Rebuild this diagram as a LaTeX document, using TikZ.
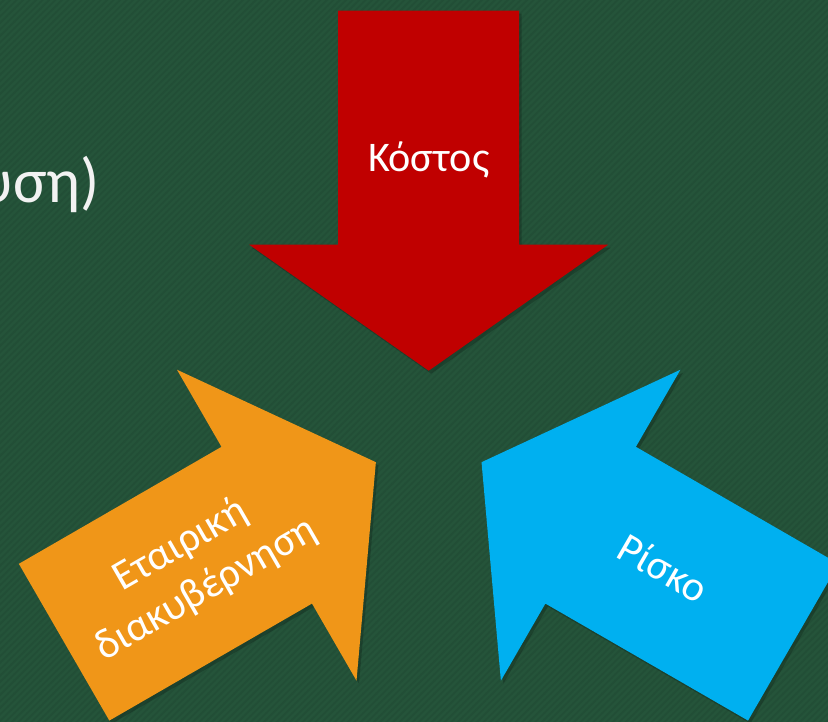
\documentclass[tikz,border=0pt]{standalone}
\usepackage{fontspec}
\setmainfont{Carlito}
\usetikzlibrary{patterns.meta}

\definecolor{bggreen}{RGB}{37,84,58}
\definecolor{stripegreen}{RGB}{34,78,54}
\definecolor{kostosred}{RGB}{192,0,0}
\definecolor{etairikiorange}{RGB}{240,150,24}
\definecolor{riskoblue}{RGB}{0,176,240}
\definecolor{titlewhite}{RGB}{242,242,242}

% arrow outline, pointing to -x, tip near the origin
\newcommand{\arrowoutline}{(1.22, 0) -- (3.74, 3.59) -- (3.74, 1.81) -- (8.42, 1.81) -- (8.42, -1.81) -- (3.74, -1.81) -- (3.74, -3.59) -- cycle}

\begin{document}
\begin{tikzpicture}[
  label/.style={text=white, font=\fontsize{24}{29}\selectfont, align=center},
  shade/.style={fill=black, opacity=0.2}
]

\useasboundingbox (0, 0) rectangle (16.56, 14.42);
\clip (0, 0) rectangle (16.56, 14.42);

% Background
\fill [bggreen] (-1, -1) rectangle (17.56, 15.42);
\fill [pattern={Lines[angle=45, distance=2.6pt, line width=1pt]}, pattern color=stripegreen] (-1, -1) rectangle (17.56, 15.42);

% Title (cut off)
\node [text=titlewhite, font=\fontsize{36}{40}\selectfont, anchor=base east] (titlos) at (2.12, 10.36) {υση)};

% Shadows
\begin{scope}[shift={(8.624, 5.726)}, rotate=90]
\fill [shade] \arrowoutline;
\end{scope}
\begin{scope}[shift={(8.624, 5.726)}, rotate=210]
\fill [shade] \arrowoutline;
\end{scope}
\begin{scope}[shift={(8.624, 5.726)}, rotate=-30]
\fill [shade] \arrowoutline;
\end{scope}

% Kostos
\begin{scope}[shift={(8.574, 5.786)}, rotate=90]
\fill [kostosred] \arrowoutline;
\node [label] (kostos) at (5.43, 0) {Κόστος};
\end{scope}

% Etairiki diakyvernisi
\begin{scope}[shift={(8.574, 5.786)}, rotate=210]
\fill [etairikiorange] \arrowoutline;
\node [label, rotate=30] (etairiki) at (5.43, 0) {Εταιρική\\διακυβέρνηση};
\end{scope}

% Risko
\begin{scope}[shift={(8.574, 5.786)}, rotate=-30]
\fill [riskoblue] \arrowoutline;
\node [label, rotate=-30] (risko) at (5.43, 0) {Ρίσκο};
\end{scope}

\end{tikzpicture}
\end{document}
